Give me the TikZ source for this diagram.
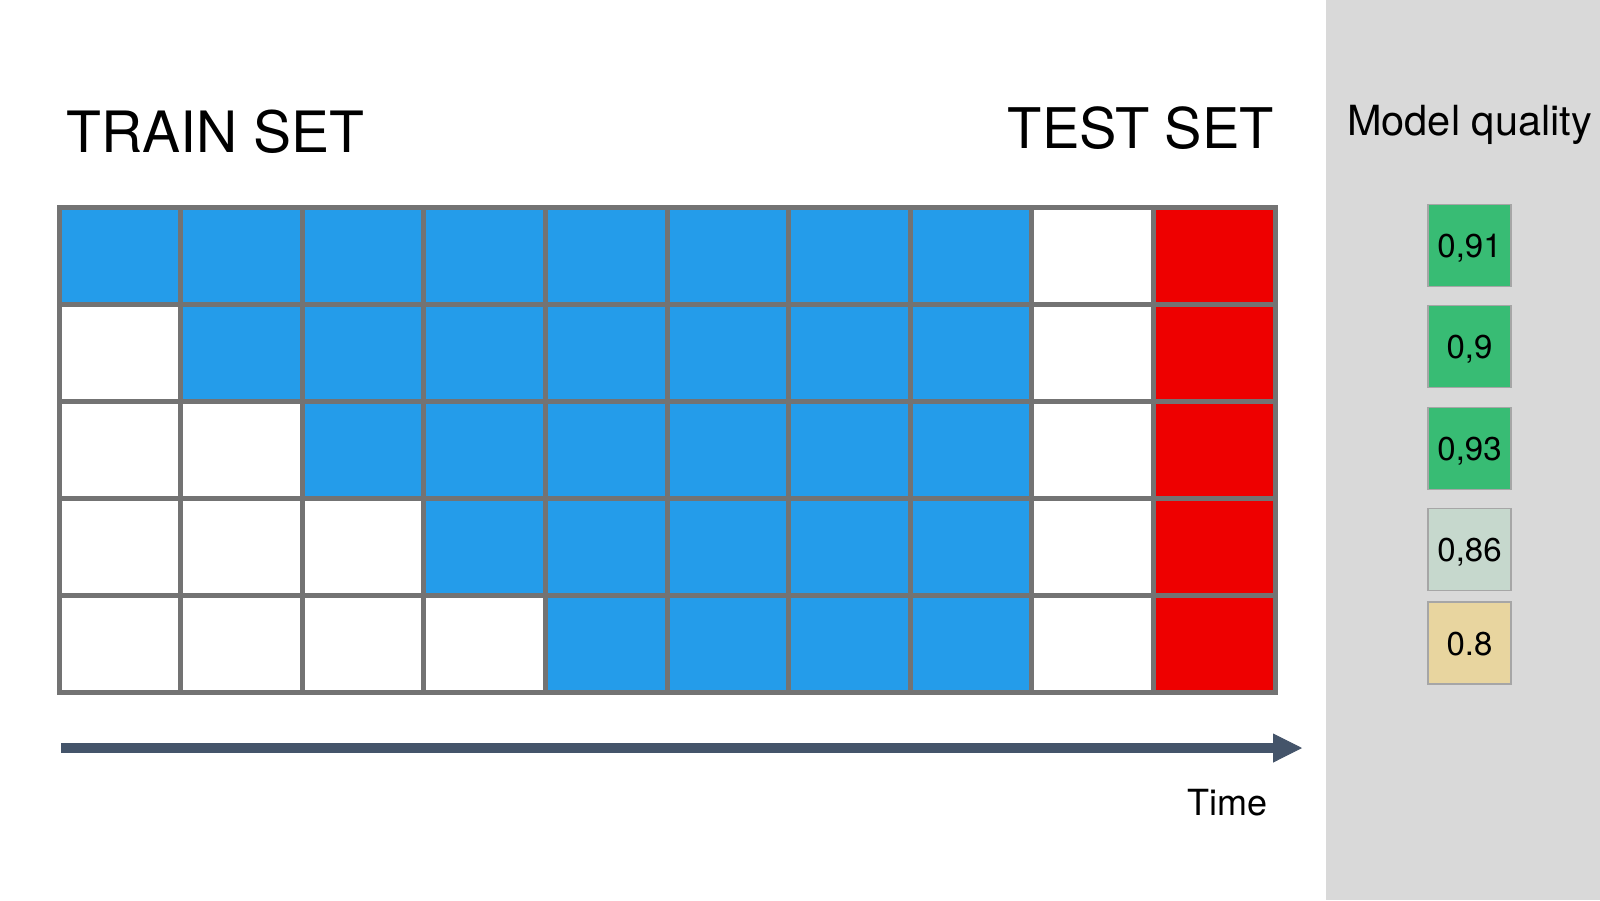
\documentclass[tikz,border=0pt]{standalone}
\usepackage{fontspec}
\setmainfont{TeX Gyre Heros}
\usetikzlibrary{arrows.meta}

\definecolor{trainblue}{HTML}{249CEA}
\definecolor{testred}{HTML}{EE0000}
\definecolor{gridgray}{HTML}{737373}
\definecolor{panelgray}{HTML}{D9D9D9}
\definecolor{goodgreen}{HTML}{38BC74}
\definecolor{palegreen}{HTML}{C6D8CD}
\definecolor{sand}{HTML}{E8D59F}
\definecolor{slate}{HTML}{44546A}

\begin{document}
\begin{tikzpicture}[x=1pt, y=-1pt,
  cell/.style={draw=gridgray, line width=5pt, minimum width=121.6pt, minimum height=97pt, inner sep=0pt, outer sep=0pt},
  score/.style={draw=gray!70, line width=1.5pt, minimum width=83pt, minimum height=82pt, inner sep=0pt, text height=24pt, text depth=0pt, font=\fontsize{33}{36}\selectfont},
  title/.style={anchor=base, inner sep=0pt, font=\fontsize{57}{64}\selectfont}]
\useasboundingbox (0,0) rectangle (1600,900);
\fill[white] (0,0) rectangle (1600,900);
\fill[panelgray] (1326,0) rectangle (1600,900);

\node[title, anchor=base west] (train) at (66,152) {TRAIN SET};
\node[title, anchor=base east, font=\fontsize{56}{64}\selectfont] (test) at (1274,148) {TEST SET};
\node[anchor=base west, inner sep=0pt, font=\fontsize{41.5}{46}\selectfont] (quality) at (1347,135) {Model quality};

% folds: blue = train, red = test
\foreach \r in {0,...,4}{
  \foreach \c in {0,...,9}{
    \ifnum\c=9 \def\cellcol{testred}\else
      \ifnum\c=8 \def\cellcol{white}\else
        \ifnum\c<\r \def\cellcol{white}\else \def\cellcol{trainblue}\fi
      \fi
    \fi
    \node[cell, fill=\cellcol] (c-\r-\c) at ({59+121.6*(\c+0.5)}, {207+97*(\r+0.5)}) {};
  }
}

\node[score, fill=goodgreen] (q1) at (1469.5,245.5) {0,91};
\node[score, fill=goodgreen] (q2) at (1469.5,346.5) {0,9};
\node[score, fill=goodgreen] (q3) at (1469.5,448.5) {0,93};
\node[score, fill=palegreen] (q4) at (1469.5,549.5) {0,86};
\node[score, fill=sand] (q5) at (1469.5,643) {0.8};

\coordinate (tstart) at (61,748);
\coordinate (tend) at (1302,748);
\draw[slate, line width=10pt, -{Triangle[length=29pt, width=29pt, line width=1pt]}] (tstart) -- (tend);
\node[anchor=base east, inner sep=0pt, font=\fontsize{36}{40}\selectfont] (time) at (1268,815) {Time};

\end{tikzpicture}
\end{document}
